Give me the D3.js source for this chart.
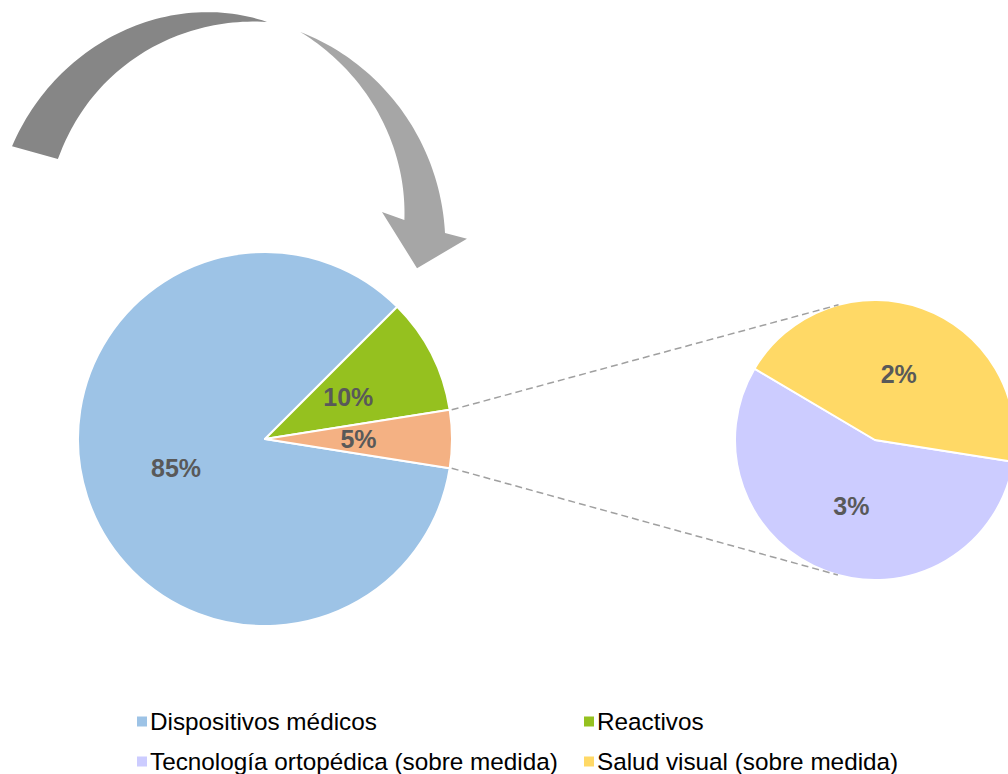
<!DOCTYPE html>
<html>
<head>
<meta charset="utf-8">
<script src="https://cdn.jsdelivr.net/npm/d3@7"></script>
<style>
  html, body { margin: 0; padding: 0; background: #fff; overflow: hidden; }
  svg { display: block; font-family: "Liberation Sans", Arial, sans-serif; }
</style>
</head>
<body>
<div id="chart"></div>
<script>
// Main pie: the last slice is broken out into the secondary pie
const mainCategories = ['Dispositivos médicos', 'Reactivos', 'Otros'];
const mainValues = [85, 10, 5];
const mainColors = ['#9DC3E6', '#95C11F', '#F4B183'];

// Secondary pie (breakdown of "Otros")
const subCategories = ['Tecnología ortopédica (sobre medida)', 'Salud visual (sobre medida)'];
const subValues = [2.8, 2.2];
const subColors = ['#CCCCFF', '#FFD966'];

const legendItems = ['Dispositivos médicos', 'Reactivos', 'Tecnología ortopédica (sobre medida)', 'Salud visual (sobre medida)'];

const WIDTH = 1008, HEIGHT = 774;
const LABEL_COLOR = '#595959';

const main = {cx: 265, cy: 439, r: 187};
const sub = {cx: 875, cy: 440, r: 140};

const svg = d3.select('#chart').append('svg')
    .attr('width', WIDTH)
    .attr('height', HEIGHT);

const toRad = d => d * Math.PI / 180;
const pct = v => Math.round(v) + '%';

// ---- main pie, rotated so the broken-out slice points right
const total = d3.sum(mainValues);
const beforeLast = d3.sum(mainValues.slice(0, -1)) + mainValues[mainValues.length - 1] / 2;
const mainStart = Math.PI / 2 - 2 * Math.PI * beforeLast / total;

const mainPie = d3.pie().sort(null)
    .startAngle(mainStart)
    .endAngle(mainStart + 2 * Math.PI);

const mainArcs = mainPie(mainValues).map((a, i) => Object.assign(a, {i}));
const mainArc = d3.arc().innerRadius(0).outerRadius(main.r);

const gMain = svg.append('g')
    .attr('transform', 'translate(' + main.cx + ',' + main.cy + ')');

gMain.selectAll('path')
    .data(mainArcs)
  .enter().append('path')
    .attr('d', mainArc)
    .attr('fill', d => mainColors[d.i])
    .attr('stroke', '#fff')
    .attr('stroke-width', 2)
    .attr('stroke-linejoin', 'round');

// ---- secondary pie, starts where the broken-out slice ends
const other = mainArcs[mainArcs.length - 1];
const subStart = other.endAngle - 2 * Math.PI;

const subPie = d3.pie().sort(null)
    .startAngle(subStart)
    .endAngle(subStart + 2 * Math.PI);

const subArcs = subPie(subValues).map((a, i) => Object.assign(a, {i}));
const subArc = d3.arc().innerRadius(0).outerRadius(sub.r);

const gSub = svg.append('g')
    .attr('transform', 'translate(' + sub.cx + ',' + sub.cy + ')');

gSub.selectAll('path')
    .data(subArcs)
  .enter().append('path')
    .attr('d', subArc)
    .attr('fill', d => subColors[d.i])
    .attr('stroke', '#fff')
    .attr('stroke-width', 2)
    .attr('stroke-linejoin', 'round');

// ---- connector lines: from slice edges, tangent to the secondary pie
function tangentPoint(p, side) {
  const dx = sub.cx - p[0], dy = sub.cy - p[1];
  const d = Math.sqrt(dx * dx + dy * dy);
  const base = Math.atan2(dy, dx);
  const alpha = Math.asin(sub.r / d) * side;
  const len = Math.sqrt(d * d - sub.r * sub.r);
  return [p[0] + len * Math.cos(base + alpha), p[1] + len * Math.sin(base + alpha)];
}

const edgePoint = a => [main.cx + main.r * Math.sin(a), main.cy - main.r * Math.cos(a)];
const connectors = [
  [edgePoint(other.startAngle), -1],
  [edgePoint(other.endAngle), 1]
].map(([p, side]) => [p, tangentPoint(p, side)]);

svg.append('g').selectAll('line')
    .data(connectors)
  .enter().append('line')
    .attr('x1', d => d[0][0] + 2)
    .attr('y1', d => d[0][1])
    .attr('x2', d => d[1][0])
    .attr('y2', d => d[1][1])
    .attr('stroke', '#a0a0a0')
    .attr('stroke-width', 1.5)
    .attr('stroke-dasharray', '7,4');

// ---- data labels (at half radius)
gMain.selectAll('text')
    .data(mainArcs)
  .enter().append('text')
    .attr('transform', d => 'translate(' + mainArc.centroid(d) + ')')
    .attr('text-anchor', 'middle')
    .attr('dy', '0.36em')
    .attr('fill', LABEL_COLOR)
    .style('font-size', '25px')
    .style('font-weight', 'bold')
    .text(d => pct(d.data));

gSub.selectAll('text')
    .data(subArcs)
  .enter().append('text')
    .attr('transform', d => 'translate(' + subArc.centroid(d) + ')')
    .attr('text-anchor', 'middle')
    .attr('dy', '0.36em')
    .attr('fill', LABEL_COLOR)
    .style('font-size', '25px')
    .style('font-weight', 'bold')
    .text(d => pct(d.data));

// ---- decorative curved arrow (two-tone ribbon)
const arrowC = [221, 235];
const polar = (r, deg) => [arrowC[0] + r * Math.cos(toRad(deg)), arrowC[1] + r * Math.sin(toRad(deg))];

function band(outer, inner, n) {
  const pts = [], back = [];
  for (let k = 0; k <= n; k++) {
    const s = k / n;
    pts.push(polar(outer.r(s), outer.a0 + (outer.a1 - outer.a0) * s));
    back.push(polar(inner.r(s), inner.a0 + (inner.a1 - inner.a0) * s));
  }
  return {outer: pts, inner: back};
}

const line = d3.line();

// back (dark) part
const backBand = band(
  {a0: -157, a1: -77.8, r: s => 227 - 9 * Math.pow(s, 4)},
  {a0: -155, a1: -77.8, r: s => 180 + 38 * Math.pow(s, 1.2)},
  60
);
svg.append('path')
    .attr('d', line(backBand.outer.concat(backBand.inner.reverse())) + 'Z')
    .attr('fill', '#868686');

// front (light) part with the arrow head
const frontBand = band(
  {a0: -68.7, a1: -0.5, r: s => 218 + 6 * s * s},
  {a0: -68.7, a1: -4.7, r: s => 218 - 34 * s * (1.3 - 0.3 * s)},
  60
);
const head = [polar(246, 0.9), polar(198.8, 9.6), polar(162.6, -8.1)];
svg.append('path')
    .attr('d', line(frontBand.outer.concat(head, frontBand.inner.reverse())) + 'Z')
    .attr('fill', '#a6a6a6');

// ---- legend
const legendColor = d3.scaleOrdinal()
    .domain(mainCategories.concat(subCategories))
    .range(mainColors.concat(subColors));

const legendCols = [137, 584], legendRows = [721.5, 761.5];

const legend = svg.append('g').attr('class', 'legend')
  .selectAll('g')
    .data(legendItems)
  .enter().append('g')
    .attr('transform', (d, i) => 'translate(' + legendCols[i % 2] + ',' + legendRows[Math.floor(i / 2)] + ')');

legend.append('rect')
    .attr('x', 0)
    .attr('y', -5)
    .attr('width', 10)
    .attr('height', 10)
    .attr('fill', d => legendColor(d));

legend.append('text')
    .attr('x', 13)
    .attr('dy', '0.35em')
    .attr('fill', '#000')
    .style('font-size', '24.3px')
    .text(d => d);
</script>
</body>
</html>
